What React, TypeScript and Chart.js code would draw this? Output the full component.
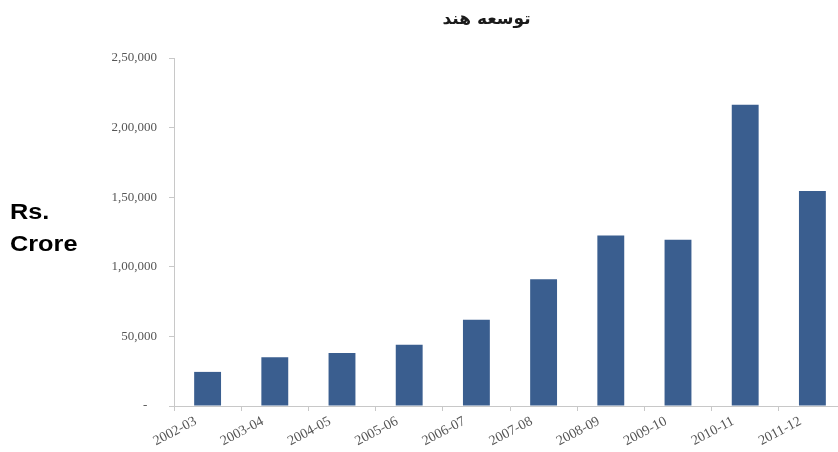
import React, { useEffect, useRef } from "react";
import { Chart, registerables } from "chart.js";

Chart.register(...registerables);

const titleText = "توسعه هند";
const yTitleLines = ["Rs.", "Crore"];
const categories = [
  "2002-03", "2003-04", "2004-05", "2005-06", "2006-07",
  "2007-08", "2008-09", "2009-10", "2010-11", "2011-12",
];
const values = [24500, 35000, 38000, 44000, 62000, 91000, 122500, 119500, 216500, 154500];
const yMax = 250000;
const yStep = 50000;

function indianFormat(v: number): string {
  if (v === 0) return "-   ";
  const s = String(Math.round(v));
  if (s.length <= 3) return s;
  const last3 = s.slice(-3);
  let rest = s.slice(0, -3);
  const parts: string[] = [];
  while (rest.length > 2) {
    parts.unshift(rest.slice(-2));
    rest = rest.slice(0, -2);
  }
  if (rest) parts.unshift(rest);
  return parts.join(",") + "," + last3;
}

const textPlugin = {
  id: "customText",
  afterDraw(chart: any) {
    const ctx = chart.ctx as CanvasRenderingContext2D;
    const area = chart.chartArea;
    ctx.save();
    // title
    ctx.fillStyle = "#1a1a1a";
    ctx.font = "bold 17px 'DejaVu Sans'";
    ctx.textAlign = "center";
    ctx.textBaseline = "middle";
    ctx.fillText(titleText, area.left + (area.right - area.left) * 0.465, 20);
    // y title
    ctx.font = "bold 22px 'Liberation Sans'";
    ctx.textAlign = "left";
    ctx.textBaseline = "alphabetic";
    ctx.fillStyle = "#000";
    const midY = (area.top + area.bottom) / 2;
    ctx.translate(10, 0);
    ctx.scale(1.15, 1);
    ctx.fillText(yTitleLines[0], 0, midY - 13);
    ctx.fillText(yTitleLines[1], 0, midY + 19);
    ctx.restore();
  },
};

export default function App() {
  const ref = useRef<HTMLCanvasElement | null>(null);
  useEffect(() => {
    document.body.style.overflow = "hidden";
    const canvas = ref.current;
    if (!canvas) return;
    const chart = new Chart(canvas, {
      type: "bar",
      data: {
        labels: categories,
        datasets: [
          {
            data: values,
            backgroundColor: "#3A5E8F",
            borderWidth: 0,
            categoryPercentage: 1,
            barPercentage: 0.4,
          },
        ],
      },
      options: {
        animation: false,
        responsive: true,
        maintainAspectRatio: false,
        layout: { padding: { top: 58, right: 4, left: 0, bottom: 0 } },
        plugins: {
          legend: { display: false },
          title: { display: false },
          tooltip: { enabled: false },
        },
        scales: {
          x: {
            offset: true,
            grid: {
              offset: true,
              drawOnChartArea: false,
              tickLength: 5,
              color: "#c8c8c8",
            },
            border: { color: "#c8c8c8" },
            ticks: {
              minRotation: 28,
              maxRotation: 28,
              color: "#555",
              font: { family: "'Liberation Serif'", size: 14 },
              padding: 2,
              labelOffset: -12,
            },
            afterFit: (s: any) => {
              s.height = 46;
            },
          },
          y: {
            min: 0,
            max: yMax,
            ticks: {
              stepSize: yStep,
              color: "#555",
              font: { family: "'Liberation Serif'", size: 13 },
              padding: 12,
              callback: (v: any) => indianFormat(Number(v)),
            },
            grid: {
              drawOnChartArea: false,
              tickLength: 5,
              color: "#c8c8c8",
            },
            border: { color: "#c8c8c8" },
            afterFit: (s: any) => {
              s.width = 174;
            },
          },
        },
      },
      plugins: [textPlugin],
    });
    return () => chart.destroy();
  }, []);
  return (
    <div style={{ position: "absolute", left: 0, top: 0, width: 850, height: 452 }}>
      <canvas ref={ref} />
    </div>
  );
}
